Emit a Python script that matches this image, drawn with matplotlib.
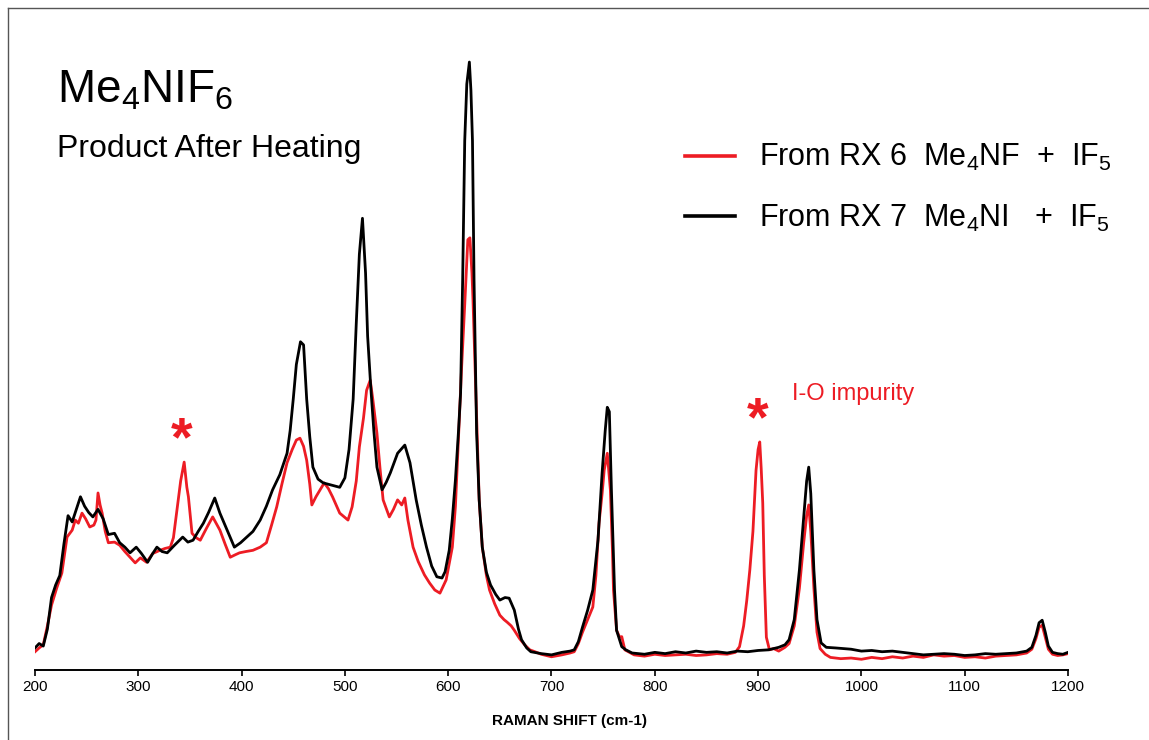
import matplotlib

matplotlib.use("Agg")
import matplotlib.pyplot as plt
from matplotlib.lines import Line2D

plt.rcParams["font.family"] = ["Liberation Sans", "DejaVu Sans"]
plt.rcParams["mathtext.fontset"] = "custom"
plt.rcParams["mathtext.rm"] = "Liberation Sans"

# Raman spectra (shift in cm-1, intensity in arbitrary units)
black_shift = [
    200, 204, 208, 212, 216, 220, 224, 228, 232, 236, 240, 244, 248, 252, 256, 261, 266, 271, 277, 282,
    287, 292, 298, 303, 309, 314, 318, 323, 328, 335, 343, 348, 353, 358, 363, 368, 374, 379, 386, 393,
    399, 405, 411, 418, 424, 430, 437, 444, 447, 450, 453, 457, 460, 463, 466, 469, 474, 479, 486, 495,
    500, 504, 508, 511, 514, 517, 520, 522, 525, 528, 531, 536, 540, 544, 551, 558, 563, 569, 574, 579,
    584, 589, 594, 597, 601, 604, 607, 610, 612, 614, 616, 618, 620.5, 622, 623.5, 625, 627.5, 630, 633,
    637, 641, 646, 650, 655, 659, 664, 668, 671, 676, 680, 690, 700, 710, 718, 722, 726, 730, 735, 740,
    745, 749, 752, 754, 756, 758, 760, 761, 763, 768, 772, 778, 790, 800, 810, 820, 830, 840, 850, 860,
    870, 880, 890, 900, 910, 920, 926, 930, 935, 940, 944, 947, 949, 951, 954, 957, 961, 966, 975, 990,
    1000, 1010, 1020, 1030, 1040, 1050, 1060, 1070, 1080, 1090, 1100, 1110, 1120, 1130, 1140, 1150,
    1160, 1165, 1169, 1172, 1175, 1178, 1181, 1185, 1190, 1195, 1200,
]
black_int = [
    3.5, 4.2, 3.8, 6.5, 11.5, 13.5, 15, 20, 24.5, 23.5, 25.5, 27.5, 26, 25, 24.3, 25.5, 24, 21.5, 21.7, 20.2,
    19.5, 18.6, 19.5, 18.5, 17.1, 18.5, 19.5, 18.8, 18.6, 19.8, 21.1, 20.3, 20.6, 22, 23.3, 25, 27.3, 24.9, 22.2, 19.5,
    20.2, 21.1, 22, 23.8, 26, 28.6, 31, 34.4, 38, 43, 48.5, 52.1, 51.6, 43, 37, 32.2, 30.3, 29.7, 29.4, 29,
    30.5, 35, 43, 55, 66, 71.7, 63, 53, 45, 38, 32.2, 28.6, 29.8, 31.3, 34.4, 35.7, 32.9, 27, 23, 19.5,
    16.5, 14.8, 14.6, 15.6, 19, 24, 30.2, 38, 44, 62, 84, 93, 96.5, 92, 84, 62, 37.6, 27, 19.5,
    15.5, 13.5, 12, 11.1, 11.5, 11.4, 9.5, 6.5, 4.8, 3.5, 2.9, 2.6, 2.4, 2.8, 3.0, 3.2, 4.5, 6.8, 9.5, 12.7,
    20.6, 31.3, 38, 41.7, 41, 28.6, 18, 12.7, 6.3, 3.7, 3.2, 2.7, 2.5, 2.8, 2.6, 2.9, 2.7, 3.0, 2.8, 2.9,
    2.7, 3.0, 2.9, 3.1, 3.2, 3.6, 4.0, 4.8, 8, 15.9, 24, 30, 32.2, 28, 15.9, 8, 4.3, 3.6, 3.5, 3.3,
    3.0, 3.1, 2.9, 3.0, 2.8, 2.6, 2.4, 2.5, 2.6, 2.5, 2.3, 2.4, 2.6, 2.5, 2.6, 2.7,
    3.0, 3.6, 5.5, 7.5, 7.9, 6, 3.8, 2.8, 2.6, 2.5, 2.8,
]

red_shift = [
    200, 204, 208, 212, 216, 221, 226, 231, 236, 239, 242, 245.5, 249, 253, 257, 259, 261, 263, 265, 268,
    271, 277, 282, 287, 292, 297, 302, 308, 314, 321, 326, 331, 334, 337, 341, 344.4, 347, 348.5, 352, 356,
    360, 366, 372, 379, 384, 389, 394, 398, 404, 411, 418, 424, 429, 434, 439, 444, 449, 453, 456.5, 460,
    463, 466, 468, 472, 476, 480, 484, 488, 495, 503, 507, 511, 514, 518, 521, 524.5, 527, 531, 534, 537,
    543, 547, 551, 555, 558, 561, 566, 571, 577, 582, 587, 592, 598, 604, 607, 609, 613, 616, 619, 621,
    623, 624, 627, 630, 633, 637, 640, 645, 650, 654, 657, 661, 664, 669, 674, 679, 684, 690, 700, 710,
    718, 722, 726, 730, 735, 740, 743, 746, 749, 751, 754, 757, 759, 760, 763, 766, 768, 771, 780, 790,
    800, 810, 820, 830, 840, 850, 860, 870, 878, 882, 886, 889, 892, 895, 898, 900, 901.6, 903, 904.5, 906,
    908, 911, 915, 920, 926, 930, 935, 940, 944, 947, 949, 951, 954, 957, 960, 965, 970, 980, 990, 1000,
    1010, 1020, 1030, 1040, 1050, 1060, 1070, 1080, 1090, 1100, 1110, 1120, 1130, 1140, 1150, 1160,
    1165, 1169, 1172, 1175, 1178, 1181, 1185, 1190, 1195, 1200,
]
red_int = [
    2.9, 3.5, 4.0, 7, 10.3, 13, 15.4, 21.1, 22.2, 23.8, 23.3, 24.9, 24, 22.7, 23, 23.8, 28.1, 26.2, 24.9, 22,
    20.2, 20.3, 19.8, 18.8, 17.9, 17.0, 17.8, 17.1, 18.5, 19, 19.3, 19.5, 21, 24.9, 30, 33.0, 29, 27.5, 21.7, 21,
    20.6, 22.5, 24.3, 22.2, 20, 17.9, 18.3, 18.6, 18.8, 19, 19.5, 20.2, 23, 25.9, 29.5, 32.9, 35, 36.5, 36.8, 35.5,
    33.3, 29.5, 26.2, 27.5, 28.6, 29.7, 28.8, 27.5, 24.9, 23.8, 25.9, 30, 35.4, 40, 44.4, 46, 43, 37.6, 32, 27,
    24.3, 25.5, 27, 26.2, 27.3, 23.8, 19.5, 17.2, 15.1, 13.8, 12.7, 12.2, 14.3, 19.5, 26, 33.3, 48.1, 58, 68.3, 68.6,
    63, 58.7, 43, 27, 19.5, 15, 12.7, 10.5, 8.7, 8, 7.6, 7, 6.3, 5, 4.0, 3.2, 2.9, 2.5, 2.1, 2.4,
    2.7, 2.9, 4.2, 6.0, 8, 10, 15, 23.3, 28, 31.7, 34.4, 28.6, 19, 12.7, 6.3, 5.2, 5.3, 3.2, 2.4, 2.2,
    2.5, 2.3, 2.4, 2.5, 2.3, 2.4, 2.6, 2.5, 2.8, 3.7, 7, 11, 15.9, 22, 31.7, 35, 36.2, 32, 26.5, 15,
    5.2, 3.2, 3.4, 3.0, 3.6, 4.2, 7, 13, 20, 24.5, 26.2, 22, 13, 6, 3.4, 2.5, 2.0, 1.8, 1.9, 1.7,
    2.0, 1.8, 2.1, 1.9, 2.2, 2.0, 2.4, 2.2, 2.3, 2.0, 2.1, 1.9, 2.2, 2.3, 2.4, 2.7,
    3.3, 5, 6.8, 7.1, 5.2, 3.3, 2.5, 2.3, 2.4, 2.6,
]

x_ticks = [200, 300, 400, 500, 600, 700, 800, 900, 1000, 1100, 1200]
red_label = "From RX 6  Me$_\\mathregular{4}$NF  +  IF$_\\mathregular{5}$"
black_label = "From RX 7  Me$_\\mathregular{4}$NI   +  IF$_\\mathregular{5}$"
star_positions = [(341.5, 34.1), (900, 37.3)]

RED = "#ED1C24"

fig = plt.figure(figsize=(11.49, 7.40), dpi=100)
ax = fig.add_axes([35 / 1149, 70 / 740, 1033 / 1149, 630 / 740])

ax.plot(red_shift, red_int, color=RED, lw=2.0, label=red_label)
ax.plot(black_shift, black_int, color="black", lw=2.0, label=black_label)

ax.set_xlim(200, 1200)
ax.set_ylim(0, 100)
for side in ("left", "right", "top"):
    ax.spines[side].set_visible(False)
ax.spines["bottom"].set_linewidth(1.4)
ax.set_yticks([])
ax.set_xticks(x_ticks)
ax.tick_params(axis="x", direction="out", length=4, width=1.2, labelsize=11, pad=3)

ax.set_xlabel("RAMAN SHIFT (cm-1)", fontsize=11, fontweight="bold")
ax.xaxis.set_label_coords((569 - 35) / 1033, (670 - 721) / 630)
ax.xaxis.label.set_va("center")

# red asterisks marking the impurity band
for sx, sy in star_positions:
    ax.text(sx, sy, "*", color=RED, fontsize=40, fontweight="bold", ha="center", va="baseline")
ax.text(932.6, 42.9, "I-O impurity", color=RED, fontsize=17, ha="left", va="baseline")

fig.text(57 / 1149, 1 - 103 / 740, "Me$_\\mathregular{4}$NIF$_\\mathregular{6}$",
         fontsize=33, ha="left", va="baseline")
fig.text(57 / 1149, 1 - 157 / 740, "Product After Heating", fontsize=23, ha="left", va="baseline")

ax.legend(
    loc="center left",
    bbox_to_anchor=(685 / 1149, 1 - 188 / 740),
    bbox_transform=fig.transFigure,
    frameon=False,
    fontsize=22,
    handlelength=1.63,
    handletextpad=0.78,
    labelspacing=0.95,
    borderpad=0,
    borderaxespad=0,
)
for line in ax.get_legend().get_lines():
    line.set_linewidth(2.6)

# thin grey border on the left and top of the picture
fig.add_artist(Line2D([8 / 1149, 8 / 1149], [0, 1 - 8 / 740], color="#555555", lw=1, transform=fig.transFigure))
fig.add_artist(Line2D([8 / 1149, 1], [1 - 8 / 740, 1 - 8 / 740], color="#555555", lw=1, transform=fig.transFigure))

fig.savefig("out.png", dpi=100)
